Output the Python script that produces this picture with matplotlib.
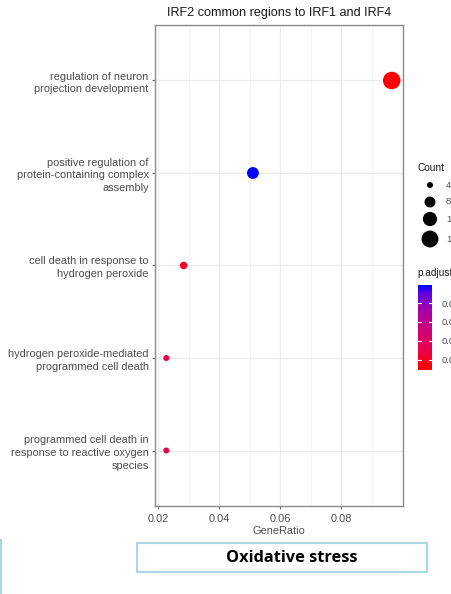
import numpy as np
import matplotlib
matplotlib.use("Agg")
import matplotlib.pyplot as plt
from matplotlib.colors import LinearSegmentedColormap, Normalize
from matplotlib.patches import Rectangle
from matplotlib.lines import Line2D
import matplotlib.colorbar as mcolorbar

plt.rcParams["font.family"] = ["Liberation Sans", "DejaVu Sans"]

# GO enrichment results (top to bottom as displayed)
terms = [
    "regulation of neuron\nprojection development",
    "positive regulation of\nprotein-containing complex\nassembly",
    "cell death in response to\nhydrogen peroxide",
    "hydrogen peroxide-mediated\nprogrammed cell death",
    "programmed cell death in\nresponse to reactive oxygen\nspecies",
]
counts = [17, 9, 5, 4, 4]
gene_ratio = [0.0966, 0.0511, 0.0284, 0.0227, 0.0227]
p_adjust = [0.0047, 0.0495, 0.0115, 0.0150, 0.0150]

count_breaks = [4, 8, 12, 16]
p_breaks = [0.01, 0.02, 0.03, 0.04]
p_labels = ["0.01", "0.02", "0.03", "0.04"]

title = "IRF2 common regions to IRF1 and IRF4"
xlabel = "GeneRatio"
caption = "Oxidative stress"

W, H = 452, 594
fig = plt.figure(figsize=(W / 100, H / 100), dpi=100)
fig.patch.set_facecolor("white")


def fx(px):
    return px / W


def fy(py):
    return 1 - py / H


# red -> blue gradient (Lab-like, through magenta/purple)
cmap = LinearSegmentedColormap.from_list(
    "red_blue",
    [(0.0, "#FF0000"), (0.25, "#E9004F"), (0.5, "#C9007F"),
     (0.75, "#9A00B3"), (0.9, "#6000E0"), (1.0, "#0000FF")],
)
norm = Normalize(vmin=min(p_adjust), vmax=max(p_adjust))


def marker_area(c):
    # point area grows linearly with the gene count
    d2_px = 20.8 * np.asarray(c, dtype=float) - 47.0
    return d2_px / (100 / 72) ** 2


ax = fig.add_axes([fx(155), fy(506), fx(403) - fx(155), fy(25) - fy(506)])
ypos = np.arange(len(terms))[::-1] + 1

ax.set_xlim(0.019, 0.1003)
ax.set_ylim(0.4, len(terms) + 0.6)
ax.set_xticks([0.02, 0.04, 0.06, 0.08])
ax.set_xticks([0.03, 0.05, 0.07, 0.09], minor=True)
ax.set_xticklabels(["0.02", "0.04", "0.06", "0.08"])
ax.set_yticks(ypos)
ax.set_yticklabels(terms, linespacing=1.35)
ax.grid(True, which="major", color="#EBEBEB", lw=0.8)
ax.grid(True, which="minor", axis="x", color="#F2F2F2", lw=0.5)
ax.set_axisbelow(True)
for s in ax.spines.values():
    s.set_color("#8A8A8A")
    s.set_linewidth(1.0)
ax.tick_params(axis="y", which="major", length=2.5, color="#6E6E6E",
               labelsize=7.9, labelcolor="#4D4D4D", pad=2)
ax.tick_params(axis="x", which="major", length=2.5, color="#6E6E6E",
               labelsize=7.9, labelcolor="#4D4D4D", pad=3)
ax.tick_params(axis="both", which="minor", length=0)

ax.scatter(gene_ratio, ypos, s=marker_area(counts), c=p_adjust, cmap=cmap,
           norm=norm, zorder=3, linewidths=0)

ax.set_xlabel(xlabel, fontsize=7.9, color="#4D4D4D", labelpad=2)
fig.text(fx(279), fy(13), title, ha="center", va="center", fontsize=9.1,
         color="#1A1A1A")

# size legend
fig.text(fx(418), fy(168), "Count", ha="left", va="center", fontsize=7.3,
         color="#1A1A1A")
lax = fig.add_axes([0, 0, 1, 1], facecolor="none")
lax.set_xlim(0, W)
lax.set_ylim(H, 0)
lax.axis("off")
leg_y = [185, 202, 219, 239]
lax.scatter([430] * len(count_breaks), leg_y, s=marker_area(count_breaks),
            color="black", linewidths=0)
for yy, c in zip(leg_y, count_breaks):
    lax.text(446, yy, str(c), ha="left", va="center", fontsize=6.8,
             color="#4D4D4D", clip_on=False)

# colour legend
fig.text(fx(417), fy(273), "p.adjust", ha="left", va="center", fontsize=7.3,
         color="#1A1A1A")
cax = fig.add_axes([fx(418), fy(370), fx(432) - fx(418), fy(285) - fy(370)])
cb = mcolorbar.ColorbarBase(cax, cmap=cmap, norm=norm, orientation="vertical")
cb.outline.set_visible(False)
cb.set_ticks(p_breaks)
cb.set_ticklabels(p_labels)
cax.tick_params(length=0, labelsize=6.8, labelcolor="#4D4D4D", pad=7)
for v in p_breaks:
    cax.plot([0, 0.2], [v, v], color="white", lw=0.8, transform=cax.get_yaxis_transform())
    cax.plot([0.8, 1.0], [v, v], color="white", lw=0.8, transform=cax.get_yaxis_transform())

# caption box
fig.patches.append(Rectangle((fx(137), fy(572)), fx(427) - fx(137), fy(543) - fy(572),
                             transform=fig.transFigure, fill=False,
                             edgecolor="#A9D8E2", lw=1.5))
fig.text(fx(292), fy(558), caption, ha="center", va="center", fontsize=11.8,
         fontweight="bold", family=["Open Sans", "DejaVu Sans"], color="black")
fig.lines.append(Line2D([fx(1.5), fx(1.5)], [fy(540), fy(594)],
                        transform=fig.transFigure, color="#A9D8E2", lw=1.5))

fig.savefig("out.png", dpi=100, facecolor="white")
